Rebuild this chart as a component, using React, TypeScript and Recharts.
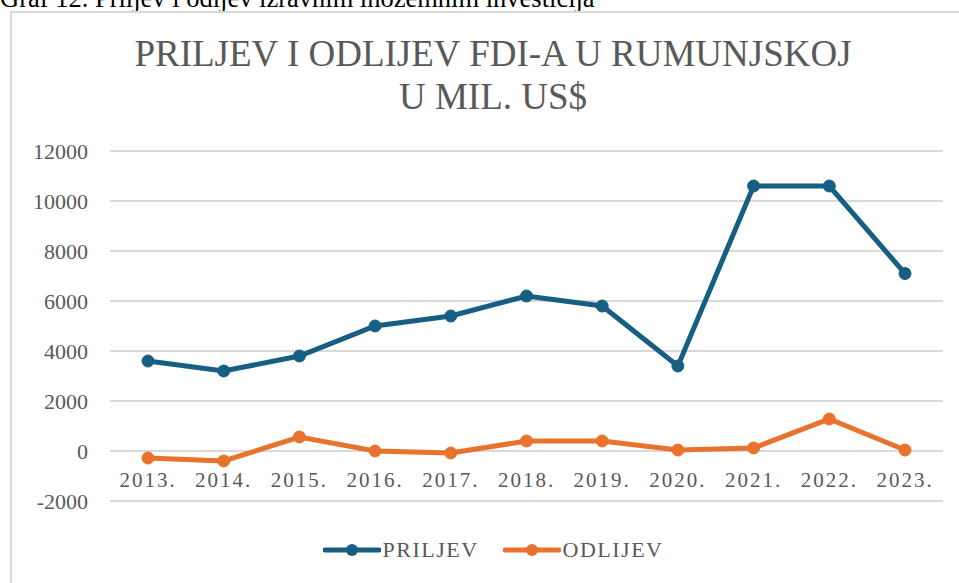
import React from "react";
import { LineChart, Line, XAxis, YAxis, CartesianGrid } from "recharts";

const years = ["2013.", "2014.", "2015.", "2016.", "2017.", "2018.", "2019.", "2020.", "2021.", "2022.", "2023."];
const priljev = [3600, 3200, 3800, 5000, 5400, 6200, 5800, 3400, 10600, 10600, 7100];
const odljev = [-280, -400, 560, 0, -80, 400, 400, 40, 120, 1280, 40];
const yTicks = [-2000, 0, 2000, 4000, 6000, 8000, 10000, 12000];

const BLUE = "#175f82";
const ORANGE = "#e9722e";
const TEXT = "#595959";
const FONT = '"Liberation Serif", "Times New Roman", serif';

const data = years.map((g, i) => ({ godina: g, PRILJEV: priljev[i], ODLIJEV: odljev[i] }));

// x labels sit just under the 0 line, like Excel's category axis
function YearTick(props: any) {
  const { x, y, payload } = props;
  return (
    <text x={x} y={y - 14} textAnchor="middle" fill={TEXT} fontSize={21} letterSpacing={2} fontFamily={FONT}>
      {payload.value}
    </text>
  );
}

function LegendItem({ color, label }: { color: string; label: string }) {
  return (
    <div style={{ display: "flex", alignItems: "center", marginRight: 24 }}>
      <svg width={58} height={14}>
        <line x1={2} y1={7} x2={56} y2={7} stroke={color} strokeWidth={5} strokeLinecap="round" />
        <circle cx={29} cy={7} r={6} fill={color} />
      </svg>
      <span style={{ fontSize: 22, letterSpacing: 1.5, color: TEXT, marginLeft: 2 }}>{label}</span>
    </div>
  );
}

export default function App() {
  return (
    <div style={{ position: "absolute", left: 0, top: 0, width: 959, height: 583, overflow: "hidden", background: "#fff", fontFamily: FONT }}>
      <div style={{ position: "absolute", left: 0, top: -17, fontSize: 26.5, color: "#000", whiteSpace: "nowrap" }}>
        Graf 12. Priljev i odljev izravnim inozemnim investicija
      </div>
      <div style={{ position: "absolute", left: 10, top: 11, width: 980, height: 600, border: "2px solid #d9d9d9" }} />
      <div style={{ position: "absolute", left: 0, top: 32, width: 986, textAlign: "center", fontSize: 37, lineHeight: "43px", color: TEXT }}>
        PRILJEV I ODLIJEV FDI-A U RUMUNJSKOJ
        <br />
        U MIL. US$
      </div>
      <div style={{ position: "absolute", left: 0, top: 0 }}>
        <LineChart width={959} height={583} data={data} margin={{ top: 151, right: 16, bottom: 52, left: 0 }}>
          <CartesianGrid horizontal vertical={false} stroke="#d9d9d9" strokeWidth={2} />
          <XAxis
            dataKey="godina"
            height={30}
            padding={{ left: 38, right: 38 }}
            axisLine={false}
            tickLine={false}
            tickSize={0}
            tickMargin={0}
            interval={0}
            tick={<YearTick />}
          />
          <YAxis
            width={110}
            domain={[-2000, 12000]}
            ticks={yTicks}
            axisLine={false}
            tickLine={false}
            tickSize={0}
            tickMargin={22}
            tick={{ fill: TEXT, fontSize: 22, fontFamily: FONT }}
          />
          <Line
            type="linear"
            dataKey="PRILJEV"
            stroke={BLUE}
            strokeWidth={5}
            dot={{ r: 6, fill: BLUE, stroke: BLUE, strokeWidth: 1 }}
            isAnimationActive={false}
          />
          <Line
            type="linear"
            dataKey="ODLIJEV"
            stroke={ORANGE}
            strokeWidth={5}
            dot={{ r: 6, fill: ORANGE, stroke: ORANGE, strokeWidth: 1 }}
            isAnimationActive={false}
          />
        </LineChart>
      </div>
      <div style={{ position: "absolute", left: 13, top: 537, width: 984, display: "flex", justifyContent: "center" }}>
        <LegendItem color={BLUE} label="PRILJEV" />
        <LegendItem color={ORANGE} label="ODLIJEV" />
      </div>
    </div>
  );
}
